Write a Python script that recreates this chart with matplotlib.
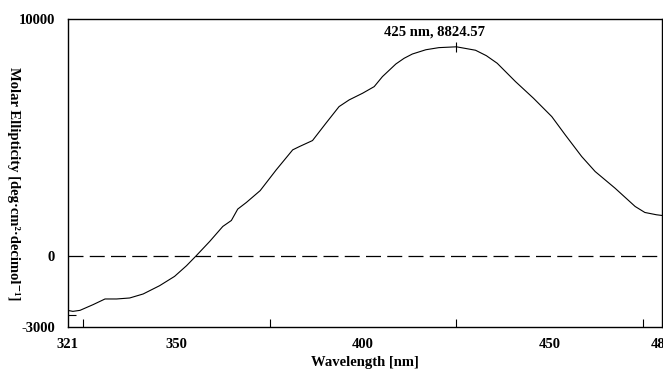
import matplotlib
matplotlib.use('Agg')
import matplotlib.pyplot as plt

# 波長 [nm]
wavelength = [321.0, 322.4, 324.3, 327.8, 331.0, 334.1, 337.6, 341.2, 345.6, 349.6,
              352.8, 355.4, 359.0, 362.5, 364.8, 366.5, 368.8, 372.5, 376.8, 381.2,
              383.0, 386.5, 390.1, 393.6, 396.3, 399.9, 403.0, 405.2, 408.8, 411.0,
              413.2, 416.8, 420.3, 425.0, 430.1, 433.0, 435.9, 440.8, 445.6, 450.5,
              454.1, 458.5, 462.1, 467.4, 472.8, 475.4, 478.5, 480.0]
# モル楕円率
ellipticity = [-2308, -2350, -2308, -2067, -1827, -1827, -1785, -1616, -1266, -873,
               -422, 0, 603, 1236, 1489, 1970, 2249, 2750, 3628, 4472,
               4611, 4865, 5599, 6299, 6582, 6864, 7143, 7565, 8100, 8340,
               8520, 8700, 8790, 8824.57, 8680, 8450, 8130, 7354, 6653, 5877,
               5105, 4190, 3557, 2856, 2080, 1827, 1730, 1700]

peak_nm = 425
peak_val = 8824.57

xtick_vals = [321, 350, 400, 450, 480]
xminor_vals = [325, 350, 375, 400, 425, 450, 475]
ytick_vals = [-3000, 0, 10000]
yminor_vals = [-2500, 0]

plt.rcParams['font.family'] = ['Liberation Serif', 'DejaVu Serif']
plt.rcParams['font.weight'] = 'bold'

fig = plt.figure(figsize=(6.63, 3.76), dpi=100)
ax = fig.add_axes([0.102, 0.131, 0.8966, 0.8185])

ax.plot(wavelength, ellipticity, color='black', lw=0.8)
ax.axhline(0, color='black', lw=0.9, dashes=(12, 5))

# ピーク位置のマーカーと注釈
ax.plot([peak_nm], [peak_val], marker='|', markersize=7, color='black', mew=0.8)
ax.annotate(f'{peak_nm} nm, {peak_val}', xy=(peak_nm, peak_val),
            xytext=(-16, 11), textcoords='offset points',
            ha='center', va='center', fontsize=10.5, fontweight='bold')

ax.set_xlim(321, 480)
ax.set_ylim(-3000, 10000)

ax.set_xticks(xtick_vals)
ax.set_xticklabels([str(v) for v in xtick_vals])
ax.set_xticks(xminor_vals, minor=True)
ax.set_yticks(ytick_vals)
ax.set_yticklabels([str(v) for v in ytick_vals])
ax.set_yticks(yminor_vals, minor=True)

ax.tick_params(axis='both', which='major', length=0, labelsize=10.5)
ax.tick_params(axis='x', which='major', pad=8)
ax.tick_params(axis='y', which='major', pad=9)
ax.tick_params(axis='both', which='minor', direction='in', length=6, width=0.8)

for s in ax.spines.values():
    s.set_linewidth(1.0)

ax.set_xlabel('Wavelength [nm]', fontsize=10.5, fontweight='bold', labelpad=4)
fig.text(0.021, 0.511, 'Molar Ellipticity [deg·cm²·decimol⁻¹]', rotation=270,
         ha='center', va='center', fontsize=10.5, fontweight='bold')

plt.savefig('out.png', dpi=100)
